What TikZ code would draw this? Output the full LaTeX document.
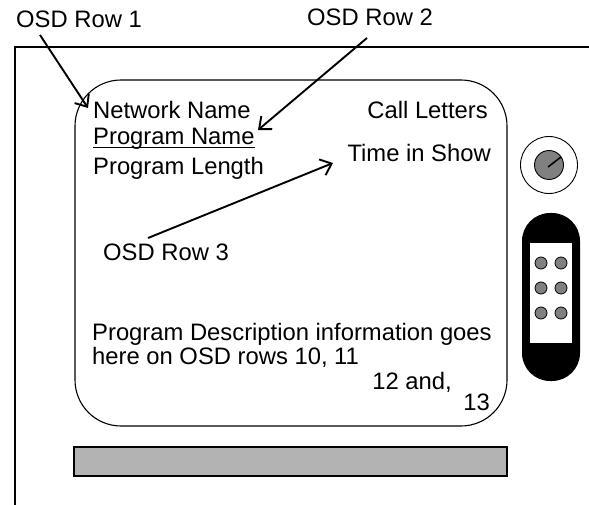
\documentclass[tikz,border=0pt]{standalone}
\usepackage{fontspec}
\setmainfont{Liberation Sans}
\usetikzlibrary{arrows.meta}
\definecolor{barfill}{RGB}{179,179,179}
\definecolor{knobfill}{RGB}{128,128,128}
\begin{document}
\begin{tikzpicture}[x=1pt,y=-1pt,
  lbl/.style={inner sep=0pt, anchor=base west, font=\fontsize{23.8}{20}\selectfont},
  lblr/.style={lbl, anchor=base east},
  ptr/.style={line width=1.9pt, -{Straight Barb[length=10pt,width=17pt,line width=1.9pt]}},
  frame/.style={line width=2pt},
  screen/.style={line width=1.1pt, rounded corners=46pt},
  dot/.style={draw, line width=0.8pt, fill=knobfill}]
\useasboundingbox (0,0) rectangle (589,505);
% cabinet frame
\draw[frame] (589,47) -- (15,47) -- (15,505);
% screen
\draw[screen] (75,80) rectangle (507,426);
% bar
\draw[line width=1.8pt, fill=barfill] (74,447) rectangle (507,476);
% knob
\draw[line width=0.9pt] (549,165) circle[radius=28.5];
\draw[line width=0.9pt, fill=knobfill] (549,165) circle[radius=14.5];
\draw[line width=1.6pt] (548,167) -- (561,157);
% remote
\fill[rounded corners=28pt] (522,213) rectangle (580,381);
\fill[white] (530,243) rectangle (572,343);
\foreach \yy in {263,288,313}{
  \draw[dot] (541,\yy) circle[radius=6];
  \draw[dot] (561,\yy) circle[radius=6];
}
% texts
\node[lbl] (r1) at (16,28) {OSD Row 1};
\node[lbl] (r2) at (307,26) {OSD Row 2};
\node[lbl] (r3) at (103,261) {OSD Row 3};
\node[lbl] (nn) at (93,119) {Network Name};
\node[lbl] (pn) at (93,145) {Program Name};
\node[lbl] (pl) at (93,175) {Program Length};
\node[lblr] (cl) at (488,119) {Call Letters};
\node[lblr] (ts) at (491,162) {Time in Show};
\node[lbl] (d1) at (92,340.5) {Program Description information goes};
\node[lbl] (d2) at (92,364) {here on OSD rows 10, 11};
\node[lblr] (d3) at (452,389) {12 and,};
\node[lblr] (d4) at (490,410) {13};
\draw[line width=1.4pt] ([yshift=-2.5pt]pn.base west) -- ([yshift=-2.5pt]pn.base east);
% arrows
\coordinate (a1s) at (40,35);
\coordinate (a1e) at (88,108);
\coordinate (a2s) at (367,38);
\coordinate (a2e) at (258,130);
\coordinate (a3s) at (148,238);
\coordinate (a3e) at (333,163);
\draw[ptr] (a1s) -- (a1e);
\draw[ptr] (a2s) -- (a2e);
\draw[ptr] (a3s) -- (a3e);
\end{tikzpicture}
\end{document}
